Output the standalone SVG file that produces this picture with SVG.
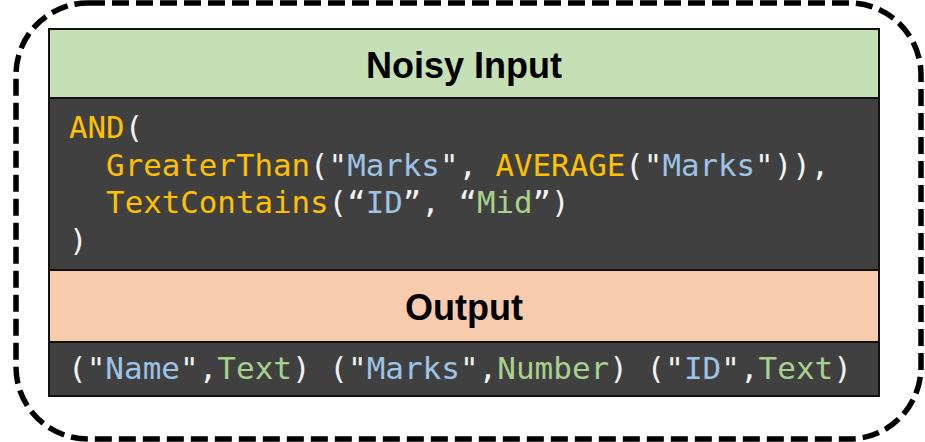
<svg xmlns="http://www.w3.org/2000/svg" width="925" height="442" viewBox="0 0 925 442">
  <style>
    .title { font-family: "Liberation Sans", Arial, sans-serif; font-weight: bold; font-size: 36px; fill: #000; text-anchor: middle; }
    .code { font-family: "DejaVu Sans Mono", "Liberation Mono", monospace; font-size: 30.8px; fill: #F2F2F2; white-space: pre; }
    .out { font-size: 31px; }
    .fn { fill: #FFC000; }
    .str { fill: #9DC3E6; }
    .typ { fill: #A9D18E; }
    .cell { stroke: #111; stroke-width: 2; }
  </style>
  <rect width="925" height="442" fill="#fff"/>

  <!-- dashed outer frame -->
  <g id="frame">
    <rect x="16" y="3" width="905" height="436" rx="72" ry="72" fill="none" stroke="#000" stroke-width="5.5" stroke-dasharray="17 7"/>
  </g>

  <!-- header: noisy input -->
  <g id="input-header">
    <rect class="cell" x="49" y="29" width="830" height="69" fill="#C5E0B4"/>
    <text class="title" x="464" y="78">Noisy Input</text>
  </g>

  <!-- formula body -->
  <g id="input-body">
    <rect class="cell" x="49" y="98" width="830" height="172" fill="#404040"/>
    <text class="code" x="69" y="138"><tspan class="fn">AND</tspan>(</text>
    <text class="code" x="69" y="175.5">  <tspan class="fn">GreaterThan</tspan>("<tspan class="str">Marks</tspan>", <tspan class="fn">AVERAGE</tspan>("<tspan class="str">Marks</tspan>")),</text>
    <text class="code" x="69" y="213">  <tspan class="fn">TextContains</tspan>(“<tspan class="str">ID</tspan>”, “<tspan class="typ">Mid</tspan>”)</text>
    <text class="code" x="69" y="250.5">)</text>
  </g>

  <!-- header: output -->
  <g id="output-header">
    <rect class="cell" x="49" y="270" width="830" height="72" fill="#F8CBAD"/>
    <text class="title" x="464" y="320">Output</text>
  </g>

  <!-- output columns -->
  <g id="output-body">
    <rect class="cell" x="49" y="342" width="830" height="54" fill="#404040"/>
    <text class="code out" x="68" y="379">("<tspan class="str">Name</tspan>",<tspan class="typ">Text</tspan>) ("<tspan class="str">Marks</tspan>",<tspan class="typ">Number</tspan>) ("<tspan class="str">ID</tspan>",<tspan class="typ">Text</tspan>)</text>
  </g>

  <g id="connectors"></g>
</svg>
